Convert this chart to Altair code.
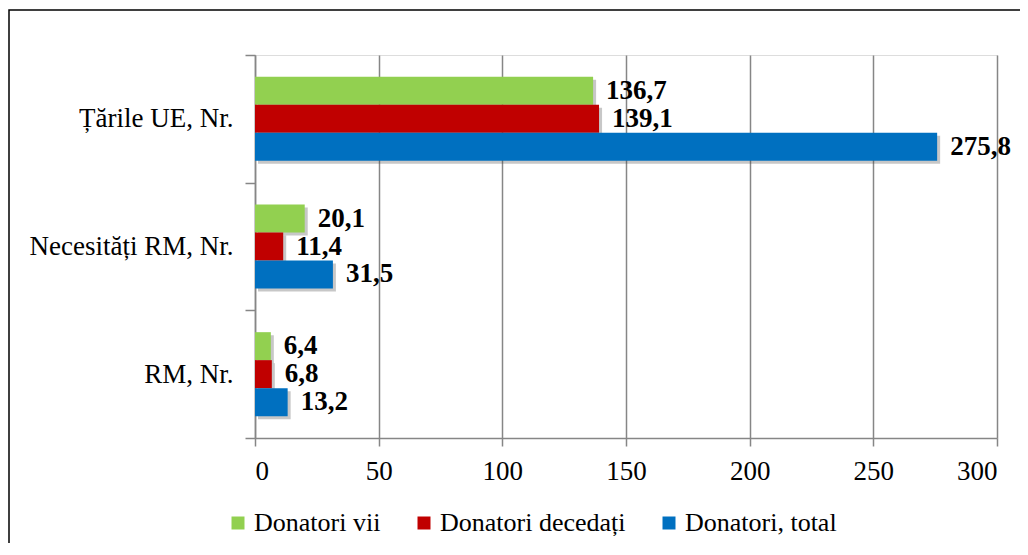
import altair as alt
import pandas as pd

categories = ["Țările UE, Nr.", "Necesități RM, Nr.", "RM, Nr."]
series = ["Donatori vii", "Donatori decedați", "Donatori, total"]
colors = ["#92D050", "#C00000", "#0070C0"]
values = {
    "Donatori vii": [136.7, 20.1, 6.4],
    "Donatori decedați": [139.1, 11.4, 6.8],
    "Donatori, total": [275.8, 31.5, 13.2],
}

rows = []
for s in series:
    for c, v in zip(categories, values[s]):
        rows.append({"cat": c, "ser": s, "val": v, "lbl": f"{v:.1f}".replace(".", ",")})
df = pd.DataFrame(rows)

FONT = "Liberation Serif"
W, H = 742, 383
BAND = H / len(categories)
SH = 3  # shadow offset

y_enc = alt.Y("cat:N", sort=categories, title=None,
              scale=alt.Scale(paddingInner=0, paddingOuter=0),
              axis=alt.Axis(tickBand="extent", labelFont=FONT, labelFontSize=27,
                            labelColor="black", labelPadding=12, tickSize=10,
                            labelLimit=0,
                            tickColor="#868686", domainColor="#868686",
                            domainWidth=1.5, tickWidth=1.5, grid=False))
yoff = alt.YOffset("ser:N", sort=series,
                   scale=alt.Scale(paddingInner=0, paddingOuter=0.78))

xscale = alt.Scale(domain=[0, 300], nice=False)
x_enc = alt.X("val:Q", title=None, scale=xscale,
              axis=alt.Axis(values=[0, 50, 100, 150, 200, 250, 300], labelFont=FONT,
                            labelFontSize=27, labelColor="black", labelPadding=12,
                            tickSize=8, tickColor="#868686", domainColor="#868686",
                            domainWidth=1.5, tickWidth=1.5, grid=True,
                            gridColor="#868686", gridWidth=1.5))

shadow = alt.Chart(df).mark_bar(color="#444444", opacity=0.3).encode(
    x=alt.X("val:Q", scale=alt.Scale(domain=[0, 300], nice=False, range=[SH, W + SH]),
            axis=None),
    y=alt.Y("cat:N", sort=categories),
    yOffset=alt.YOffset("ser:N", sort=series,
                        scale=alt.Scale(paddingInner=0, paddingOuter=0.78,
                                        range=[SH, BAND + SH])),
)

bars = alt.Chart(df).mark_bar().encode(
    x=x_enc, y=y_enc, yOffset=yoff,
    color=alt.Color("ser:N", sort=series,
                    scale=alt.Scale(domain=series, range=colors),
                    legend=alt.Legend(title=None, orient="none", direction="horizontal",
                                      legendX=-30, legendY=455, symbolType="square",
                                      symbolSize=169, symbolStrokeWidth=0,
                                      labelFont=FONT, labelFontSize=26, labelLimit=0,
                                      labelColor="black", labelOffset=3,
                                      columnPadding=30, padding=0)),
)

labels = alt.Chart(df).mark_text(align="left", baseline="middle", dx=13,
                                 font=FONT, fontSize=27, fontWeight="bold",
                                 color="black").encode(
    x=alt.X("val:Q"), y=alt.Y("cat:N", sort=categories),
    yOffset=alt.YOffset("ser:N", sort=series), text="lbl:N")

border = alt.Chart(pd.DataFrame({"a": [0]})).mark_rect(
    fill=None, stroke="black", strokeWidth=1.5).encode(
    x=alt.value(-246), x2=alt.value(W + 60), y=alt.value(-45), y2=alt.value(H + 300))

main = alt.layer(bars, labels)

chart = alt.layer(shadow, main, border).resolve_scale(
    x="independent", yOffset="independent"
).properties(
    width=W, height=H,
    autosize=alt.AutoSizeParams(type="none"),
    padding={"left": 247, "top": 47, "right": 23, "bottom": 105},
).configure_view(stroke=None).configure(background="white", font=FONT)

chart.save("out.html", embed_options={"renderer": "svg", "actions": False})
